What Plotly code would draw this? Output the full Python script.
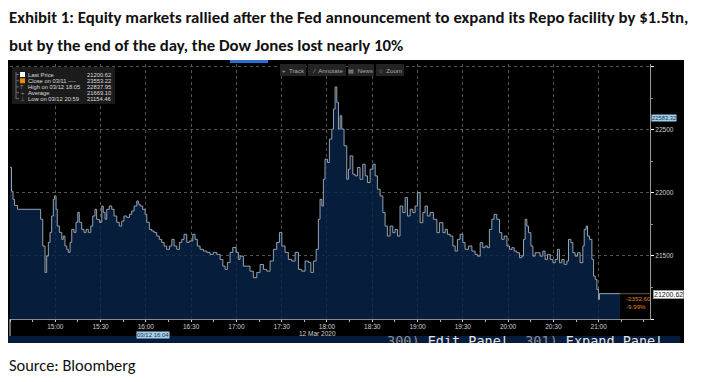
import pandas as pd
import plotly.graph_objects as go

# ---------------- data ----------------
minutes_after_open = [
    0, 1, 2, 3, 5,
    20.3, 21.7, 23.2, 24.3, 25.4, 26.5, 27.6, 28.7, 29.4, 30.5, 31.3, 32.7, 34.3, 35.3, 36.4, 37.6, 38.6, 39.8,
    40.9, 42.4, 43.7, 44.9, 45.9, 47.5, 49.0, 50.4, 51.9, 53.5, 54.8, 56.3, 57.4, 59.2,
    60.8, 61.8, 63.0, 64.1, 65.8, 67.4, 68.9, 70.7, 72.4, 74.0, 75.5, 77.3, 79.1, 80.6,
    82.2, 84.0, 85.0, 86.2, 87.9, 89.5, 90.6, 92.3, 93.9, 95.4, 97.2, 98.9,
    100.5, 102.1, 103.8, 105.6, 107.2, 108.7, 110.5, 112.2, 113.8, 115.3, 117.1, 118.8,
    121.1, 122.6, 124.1, 125.9, 128.1, 130.4, 132.5, 134.7, 137.0, 139.2,
    141.0, 142.5, 144.0, 145.8, 147.6, 149.8, 151.3, 152.4, 154.6, 156.9, 159.0,
    161.2, 163.5, 165.7, 167.9, 170.1, 172.3, 174.5, 176.7, 178.5,
    180.1, 182.2, 184.4, 186.7, 188.9, 191.1, 193.3, 195.5, 197.7, 199.3,
    201.0, 202.8, 204.3, 205.4, 206.6, 207.6, 208.7, 210.3, 211.6, 213.2, 214.3, 215.4,
    216.5, 217.6, 218.7, 219.8, 221.3, 223.1, 224.2, 225.3, 227.1, 228.6, 230.2, 231.9,
    233.7, 235.3, 236.8, 238.6, 240.4, 241.9, 243.4, 245.2, 247.0, 248.5, 250.0, 251.8,
    253.6, 255.1, 256.7, 258.4, 260.2, 261.8, 263.3, 265.1, 266.9, 268.4, 269.9,
    271.7, 273.5, 275.0, 276.5, 278.3, 280.5, 282.8, 284.5, 286.8, 288.3, 289.8,
    291.6, 293.4, 294.9, 296.4, 298.2, 300.0, 301.5, 303.7, 306.0, 308.1, 309.7,
    311.5, 313.2, 314.8, 316.3, 317.6, 319.2, 320.7, 322.5, 324.3, 325.8, 327.4,
    329.2, 330.9, 332.5, 334.0, 335.8, 337.5, 339.1, 340.2, 341.3, 342.4, 343.5,
    345.1, 346.4, 347.9, 349.4, 351.2, 353.0, 354.5, 356.1, 357.9, 359.7,
    361.2, 362.7, 364.0, 365.6, 367.1, 368.9, 370.0, 371.6, 372.9, 374.4,
    376.0, 377.7, 379.5, 380.4, 381.7, 382.6, 383.9, 385.5, 386.6, 387.7, 388.8, 389.9, 390.5, 404.2,
]
dow_price = [
    22202, 22012, 21948, 21900, 21869,
    21790, 21578, 21369, 21498, 21607, 21686, 21816, 21948, 21975, 21869, 21736, 21686, 21631, 21657, 21578, 21552, 21528, 21607,
    21710, 21686, 21766, 21845, 21766, 21710, 21686, 21710, 21686, 21736, 21816, 21869, 21790, 21766,
    21895, 21845, 21790, 21869, 21895, 21869, 21816, 21766, 21736, 21776, 21816, 21805, 21829, 21856,
    21895, 21935, 21909, 21895, 21869, 21829, 21766, 21710, 21697, 21686, 21657, 21631,
    21607, 21578, 21552, 21578, 21631, 21578, 21552, 21607, 21631, 21671, 21607, 21618,
    21671, 21631, 21578, 21552, 21538, 21528, 21512, 21528, 21512, 21472,
    21419, 21393, 21448, 21528, 21567, 21528, 21472, 21498, 21419, 21419, 21379,
    21327, 21369, 21432, 21393, 21379, 21459, 21552, 21607, 21686,
    21578, 21528, 21472, 21459, 21528, 21393, 21379, 21459, 21448, 21369,
    21459, 21552, 21790, 21948, 21895, 22107, 22266, 22240, 22425, 22504, 22663, 22838,
    22716, 22504, 22610, 22504, 22372, 22107, 22187, 22292, 22147, 22134, 22200, 22107,
    22226, 22134, 22081, 22187, 22226, 22134, 22028, 21975, 21843, 21736, 21657, 21736,
    21684, 21710, 21657, 21895, 21843, 21962, 21816, 21869, 21843, 21895, 22001,
    21763, 21843, 21895, 21816, 21843, 21790, 21684, 21763, 21684, 21710, 21671,
    21657, 21578, 21538, 21631, 21671, 21605, 21552, 21578, 21538, 21512, 21498,
    21605, 21565, 21578, 21565, 21710, 21790, 21829, 21790, 21684, 21631, 21657,
    21578, 21552, 21565, 21538, 21525, 21486, 21498, 21631, 21790, 21736, 21684,
    21578, 21498, 21525, 21525, 21498, 21538, 21472, 21512, 21472, 21446,
    21472, 21552, 21446, 21472, 21433, 21459, 21631, 21605, 21525, 21498,
    21525, 21446, 21578, 21710, 21736, 21657, 21631, 21472, 21340, 21314, 21234, 21155, 21200.62, 21200.62,
]
x_tick_labels = ["15:00", "15:30", "16:00", "16:30", "17:00", "17:30", "18:00",
                 "18:30", "19:00", "19:30", "20:00", "20:30", "21:00"]
y_tick_values = [21000, 21500, 22000, 22500, 23000]
y_tick_labels = ["", "21500", "22000", "22500", ""]
legend_labels = ["Last Price", "Close on 03/11 ----", "High on 03/12 18:05", "Average", "Low on 03/12 20:59"]
legend_values = ["21200.62", "23553.22", "22837.95", "21669.10", "21154.46"]
last_price = 21200.62
change_texts = ["-2352.60", "-9.99%"]
title_lines = ["Exhibit 1: Equity markets rallied after the Fed announcement to expand its Repo facility by $1.5tn,",
               "but by the end of the day, the Dow Jones lost nearly 10%"]
source_text = "Source: Bloomberg"

# ---------------- figure ----------------
open_time = pd.Timestamp("2020-03-12 14:30")
times = [open_time + pd.Timedelta(minutes=m) for m in minutes_after_open]
tick_times = [pd.Timestamp("2020-03-12 " + t) for t in x_tick_labels]
x_end = pd.Timestamp("2020-03-12 21:34")

# the page body has an 8px margin, so the figure itself starts at screen (8, 8)
W, H = 694, 374
ML, MR, MT, MB = 0, 18, 52, 39
PW, PH = W - ML - MR, H - MT - MB


def X(px):  # screen pixel -> paper
    return (px - 8 - ML) / PW


def Y(py):
    return (H - MB - (py - 8)) / PH


CHART_FONT = "Liberation Sans, Arial, sans-serif"
DOC_FONT = "Carlito, Liberation Sans Narrow, Lato, sans-serif"

fig = go.Figure()
fig.add_trace(go.Scatter(
    x=times, y=dow_price, mode="lines", line=dict(color="#98a2ad", width=1, shape="hv"),
    fill="tozeroy", fillcolor="rgba(8,38,74,0.8)", showlegend=False, hoverinfo="skip",
    xaxis="x", yaxis="y"))

# bottom strip text (clipped like the screenshot)
fig.add_trace(go.Scatter(
    x=[(387 - 8) / 672], y=[0.0], mode="text",
    text=['<span style="color:#8c8c8c">300)</span> Edit Panel  '
          '<span style="color:#8c8c8c">301)</span> Expand Panel'],
    textposition="middle right",
    textfont=dict(family="DejaVu Sans Mono, monospace", size=13.5, color="#e6e6e6"),
    cliponaxis=True, showlegend=False, hoverinfo="skip", xaxis="x2", yaxis="y2"))

shapes = []
annotations = []


def rect(x0, y0, x1, y1, color, layer="below", line=None):
    shapes.append(dict(type="rect", xref="paper", yref="paper", x0=X(x0), x1=X(x1), y0=Y(y1), y1=Y(y0),
                       fillcolor=color, line=line or dict(width=0), layer=layer))


def seg(x0, y0, x1, y1, color, width=1, layer="above", dash="solid"):
    shapes.append(dict(type="line", xref="paper", yref="paper", x0=X(x0), x1=X(x1), y0=Y(y0), y1=Y(y1),
                       line=dict(color=color, width=width, dash=dash), layer=layer))


def note(text, px, py, size=7, color="#cfcfcf", xanchor="left", yanchor="middle", family=CHART_FONT,
         bgcolor=None, bordercolor=None, borderpad=0):
    a = dict(text=text, x=X(px), y=Y(py), xref="paper", yref="paper", showarrow=False,
             xanchor=xanchor, yanchor=yanchor, font=dict(size=size, color=color, family=family),
             borderpad=borderpad)
    if bgcolor:
        a["bgcolor"] = bgcolor
    if bordercolor:
        a["bordercolor"] = bordercolor
        a["borderwidth"] = 1
    annotations.append(a)


# black terminal panel and bottom strip
rect(8, 60, 684, 343, "#000000")
rect(8, 336, 680, 343, "#061c3c")
rect(230, 60, 268, 63, "#2a6fd6", layer="above")
seg(10, 319, 10, 336, "#d0d0d0", 1)

# legend box
rect(12, 67, 115, 104, "#1b1b1b", layer="above")
seg(16, 72, 16, 99, "#6a6a6a", 1)
row_y = [74.5, 80.8, 86.8, 92.6, 98.6]
for ry in row_y:
    seg(16, ry, 19, ry, "#6a6a6a", 1)
rect(20, 72, 25, 77, "#ffffff", layer="above")
rect(20, 78.3, 25, 83.3, "#f08a00", layer="above")
note("T", 22.5, row_y[2], size=5.5, color="#9a9a9a", xanchor="center")
note("+", 22.5, row_y[3], size=5.5, color="#9a9a9a", xanchor="center")
note("⊥", 22.5, row_y[4], size=5.5, color="#9a9a9a", xanchor="center")
for lbl, val, ry in zip(legend_labels, legend_values, row_y):
    note(lbl, 27, ry, size=5.8, color="#dcdcdc")
    note(val, 112, ry, size=5.8, color="#dcdcdc", xanchor="right")

# toolbar
for label, x0, x1 in [("+  Track", 280, 306), ("⁄  Annotate", 308, 346), ("▤  News", 348, 374), ("○  Zoom", 376, 404)]:
    rect(x0, 64, x1, 76, "#242424", layer="above")
    note(label, (x0 + x1) / 2, 70, size=6.2, color="#a8a8a8", xanchor="center")

# right-hand value boxes
note("22583.32", 651, 118, size=5.8, color="#16324f", bgcolor="#9fd0ea")
note(f"{last_price:.2f}", 653, 294, size=7, color="#111111", bgcolor="#ffffff", bordercolor="#9a9a9a")
note(change_texts[0], 625, 298, size=6.2, color="#e0841c")
note(change_texts[1], 625, 306, size=6.2, color="#e0841c")

# x-axis extra labels
note("03/12 16:04", 153, 334.5, size=6, color="#16324f", xanchor="center", bgcolor="#a6cfe6")
note("12 Mar 2020", 317, 333.5, size=6.5, color="#cfcfcf", xanchor="center")

# document texts
note("<b>" + title_lines[0] + "</b>", 8, 17, size=16.8, color="#111111", family=DOC_FONT)
note("<b>" + title_lines[1] + "</b>", 8, 45, size=16.8, color="#111111", family=DOC_FONT)
note(source_text, 8, 365, size=16.4, color="#111111", family=DOC_FONT)

# line from last price to the axis
shapes.append(dict(type="line", xref="x", yref="y", x0=times[-1], x1=x_end, y0=last_price, y1=last_price,
                   line=dict(color="#6b5436", width=1), layer="above"))

fig.update_layout(
    width=W, height=H, autosize=False,
    margin=dict(l=ML, r=MR, t=MT, b=MB, pad=0),
    paper_bgcolor="#ffffff", plot_bgcolor="#000000",
    shapes=shapes, annotations=annotations, showlegend=False,
    xaxis=dict(
        domain=[X(10), X(650)], type="date", range=[open_time, x_end],
        tickmode="array", tickvals=tick_times, ticktext=x_tick_labels,
        tickfont=dict(size=6.5, color="#cfcfcf", family=CHART_FONT),
        showgrid=True, gridcolor="#555555", griddash="dot", gridwidth=1,
        ticks="outside", ticklen=2, tickcolor="#d0d0d0", ticklabelstandoff=-1,
        minor=dict(dtick=900000, tick0="2020-03-12 14:30", ticks="outside", ticklen=2,
                   tickcolor="#bdbdbd", showgrid=False),
        showline=True, linecolor="#8a8a8a", linewidth=1, zeroline=False, automargin=False,
        anchor="y", fixedrange=True),
    yaxis=dict(
        domain=[Y(319), Y(64)], range=[21000, 23020], side="right",
        tickmode="array", tickvals=y_tick_values, ticktext=y_tick_labels,
        tickfont=dict(size=6.5, color="#cfcfcf", family=CHART_FONT),
        showgrid=True, gridcolor="#555555", griddash="dot", gridwidth=1,
        ticks="outside", ticklen=3, tickcolor="#ffffff",
        minor=dict(dtick=250, tick0=21000, ticks="outside", ticklen=2, tickcolor="#8a8a8a", showgrid=False),
        showline=True, linecolor="#9a9a9a", linewidth=1, zeroline=False, automargin=False,
        anchor="x", fixedrange=True),
    xaxis2=dict(domain=[0, X(680)], range=[0, 1], visible=False, anchor="y2", fixedrange=True),
    yaxis2=dict(domain=[0, Y(336)], range=[0, 1], visible=False, anchor="x2", fixedrange=True),
)

fig.write_html("out.html")
